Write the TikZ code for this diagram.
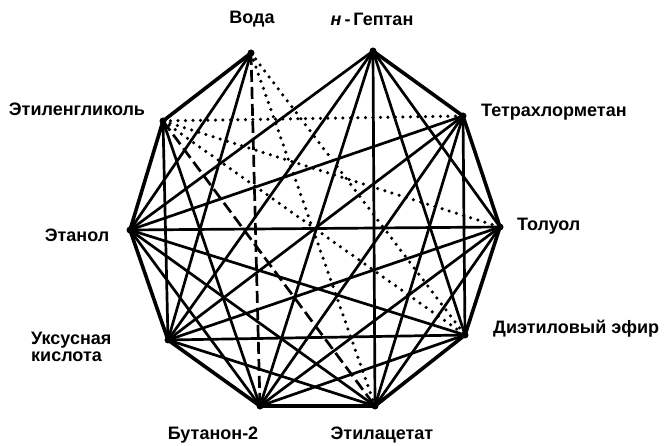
\documentclass[tikz,border=0pt]{standalone}
\usepackage{fontspec}
\setmainfont{Liberation Sans}
\begin{document}
\begin{tikzpicture}[x=1pt,y=-1pt,
  vtx/.style={circle,fill=black,inner sep=0pt,minimum size=7pt},
  lbl/.style={font=\bfseries\fontsize{18}{17}\selectfont,inner sep=0pt},
  rim/.style={line width=3.6pt,line join=round},
  solidline/.style={line width=2.7pt},
  dotline/.style={line width=3.5pt,line cap=round,dash pattern=on 0pt off 7.5pt},
  dashline/.style={line width=2.7pt,dash pattern=on 12pt off 5pt}]
\useasboundingbox (0,0) rectangle (667,446);
\node[vtx] (V) at (251,53) {};
\node[vtx] (H) at (373,51) {};
\node[vtx] (T) at (463,116) {};
\node[vtx] (Tol) at (500,227) {};
\node[vtx] (D) at (465,335) {};
\node[vtx] (E) at (375,406) {};
\node[vtx] (B) at (260,406) {};
\node[vtx] (U) at (168,340) {};
\node[vtx] (Et) at (130,230) {};
\node[vtx] (G) at (163,121) {};
% labels
\node[lbl] (lV) at (252,19) {Вода};
\node[lbl] (lH) at (372,19) {{\itshape н}\,-\,Гептан};
\node[lbl,anchor=west] (lT) at (481,112) {Тетрахлорметан};
\node[lbl,anchor=west] (lTol) at (517,226) {Толуол};
\node[lbl,anchor=west] (lD) at (493,329) {Диэтиловый эфир};
\node[lbl] (lE) at (382,435) {Этилацетат};
\node[lbl] (lB) at (213,435) {Бутанон-2};
\node[lbl,align=left,anchor=west] (lU) at (31,347) {Уксусная\\кислота};
\node[lbl] (lEt) at (77,235) {Этанол};
\node[lbl] (lG) at (77,109) {Этиленгликоль};
% rim
\draw[rim] (V.center) -- (G.center) -- (Et.center) -- (U.center) -- (B.center) -- (E.center) -- (D.center) -- (Tol.center) -- (T.center) -- (H.center);
% solid interior
\foreach \a/\b in {H/Tol,H/D,H/E,H/B,H/U,H/Et,
  T/D,T/E,T/B,T/U,T/Et,
  Tol/E,Tol/B,Tol/U,Tol/Et,
  D/B,D/U,D/Et,
  E/U,E/Et,
  B/Et,
  V/Et,V/U,G/U,G/B}
  \draw[solidline] (\a.center) -- (\b.center);
% dashed
\draw[dashline] (V.center) -- (B.center);
\draw[dashline] (G.center) -- (E.center);
% dotted
\draw[dotline] (V.center) -- (D.center);
\draw[dotline] (V.center) -- (E.center);
\draw[dotline] (G.center) -- (T.center);
\draw[dotline] (G.center) -- (Tol.center);
\draw[dotline] (G.center) -- (D.center);
\end{tikzpicture}
\end{document}
